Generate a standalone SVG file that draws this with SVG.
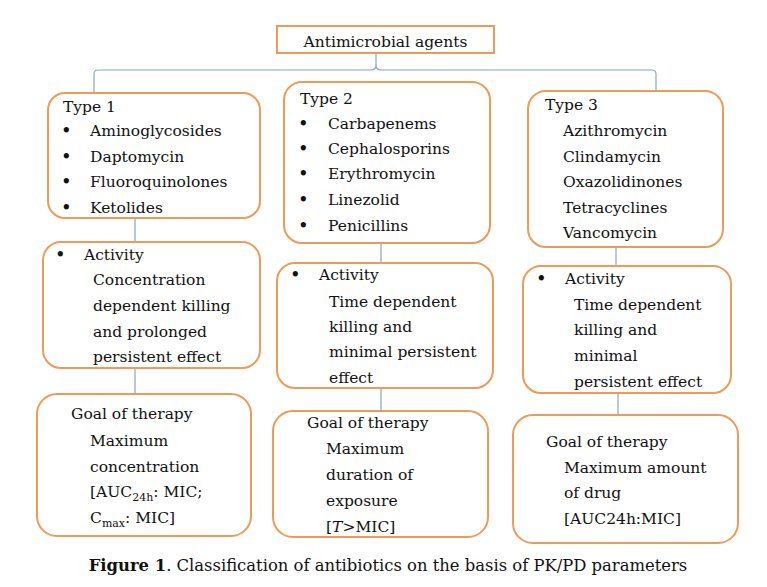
<svg xmlns="http://www.w3.org/2000/svg" width="767" height="587" viewBox="0 0 767 587">
<style>
.box{fill:#fff;stroke:#EE9A58;stroke-width:2}
.t{font-family:"DejaVu Serif",serif;font-size:15.5px;fill:#111}
.b{font-family:"DejaVu Serif",serif;font-size:18px;fill:#111}
.c{fill:none;stroke:#8AA4CC;stroke-width:1.2}
.cap{font-family:"DejaVu Serif",serif;font-size:16.4px;fill:#111}
</style>
<rect width="767" height="587" fill="#fff"/>
<g id="connectors">
<path class="c" d="M94,92 V74 Q94,70 98,70 H371 Q376,70 376,65 V54 M376,65 Q376,70 381,70 H652 Q656,70 656,74 V91"/>
<path class="c" d="M135,218 V242 M135,368 V394"/>
<path class="c" d="M381,243 V263 M381,388 V411"/>
<path class="c" d="M616,247 V266 M618,393 V415"/>
</g>
<g id="root">
<rect class="box" x="277" y="26" width="217" height="27"/>
<text class="t" x="385.5" y="47" text-anchor="middle">Antimicrobial agents</text>
</g>
<g id="type1">
<rect class="box" x="48" y="93" width="212" height="125" rx="17"/>
<text class="t" x="63" y="112">Type 1</text>
<text class="b" x="61" y="137">•</text><text class="t" x="90" y="136">Aminoglycosides</text>
<text class="b" x="61" y="163">•</text><text class="t" x="90" y="162">Daptomycin</text>
<text class="b" x="61" y="188">•</text><text class="t" x="90" y="187">Fluoroquinolones</text>
<text class="b" x="61" y="214">•</text><text class="t" x="90" y="213">Ketolides</text>
</g>
<g id="type2">
<rect class="box" x="284" y="82" width="206" height="161" rx="18"/>
<text class="t" x="300" y="104">Type 2</text>
<text class="b" x="298" y="130">•</text><text class="t" x="328" y="129">Carbapenems</text>
<text class="b" x="298" y="155">•</text><text class="t" x="328" y="154">Cephalosporins</text>
<text class="b" x="298" y="180">•</text><text class="t" x="328" y="179">Erythromycin</text>
<text class="b" x="298" y="206">•</text><text class="t" x="328" y="205">Linezolid</text>
<text class="b" x="298" y="232">•</text><text class="t" x="328" y="231">Penicillins</text>
</g>
<g id="type3">
<rect class="box" x="528" y="91" width="195" height="156" rx="18"/>
<text class="t" x="545" y="110">Type 3</text>
<text class="t" x="563" y="136">Azithromycin</text>
<text class="t" x="563" y="162">Clindamycin</text>
<text class="t" x="563" y="187">Oxazolidinones</text>
<text class="t" x="563" y="213">Tetracyclines</text>
<text class="t" x="563" y="238">Vancomycin</text>
</g>
<g id="activity1">
<rect class="box" x="43" y="242" width="217" height="126" rx="18"/>
<text class="b" x="55" y="261">•</text><text class="t" x="84" y="260">Activity</text>
<text class="t" x="93" y="285">Concentration</text>
<text class="t" x="93" y="311">dependent killing</text>
<text class="t" x="93" y="337">and prolonged</text>
<text class="t" x="93" y="362">persistent effect</text>
</g>
<g id="activity2">
<rect class="box" x="277" y="263" width="216" height="125" rx="18"/>
<text class="b" x="290" y="281">•</text><text class="t" x="319" y="280">Activity</text>
<text class="t" x="329" y="307">Time dependent</text>
<text class="t" x="329" y="332">killing and</text>
<text class="t" x="329" y="357">minimal persistent</text>
<text class="t" x="329" y="383">effect</text>
</g>
<g id="activity3">
<rect class="box" x="523" y="266" width="208" height="127" rx="18"/>
<text class="b" x="536" y="285">•</text><text class="t" x="565" y="284">Activity</text>
<text class="t" x="574" y="310">Time dependent</text>
<text class="t" x="574" y="335">killing and</text>
<text class="t" x="574" y="361">minimal</text>
<text class="t" x="574" y="387">persistent effect</text>
</g>
<g id="goal1">
<rect class="box" x="37" y="394" width="214" height="142" rx="20"/>
<text class="t" x="71" y="419">Goal of therapy</text>
<text class="t" x="90" y="446">Maximum</text>
<text class="t" x="90" y="472">concentration</text>
<text class="t" x="90" y="497">[AUC<tspan font-size="11" dy="4">24h</tspan><tspan dy="-4">: MIC;</tspan></text>
<text class="t" x="90" y="523">C<tspan font-size="11" dy="4">max</tspan><tspan dy="-4">: MIC]</tspan></text>
</g>
<g id="goal2">
<rect class="box" x="273" y="411" width="215" height="126" rx="20"/>
<text class="t" x="307" y="428">Goal of therapy</text>
<text class="t" x="326" y="454">Maximum</text>
<text class="t" x="326" y="480">duration of</text>
<text class="t" x="326" y="506">exposure</text>
<text class="t" x="326" y="532">[<tspan font-style="italic">T</tspan>&gt;MIC]</text>
</g>
<g id="goal3">
<rect class="box" x="513" y="415" width="225" height="128" rx="20"/>
<text class="t" x="546" y="447">Goal of therapy</text>
<text class="t" x="564" y="473">Maximum amount</text>
<text class="t" x="564" y="498">of drug</text>
<text class="t" x="564" y="524">[AUC24h:MIC]</text>
</g>
<text class="cap" x="388" y="571" text-anchor="middle"><tspan font-weight="bold">Figure 1</tspan>. Classification of antibiotics on the basis of PK/PD parameters</text>
</svg>
